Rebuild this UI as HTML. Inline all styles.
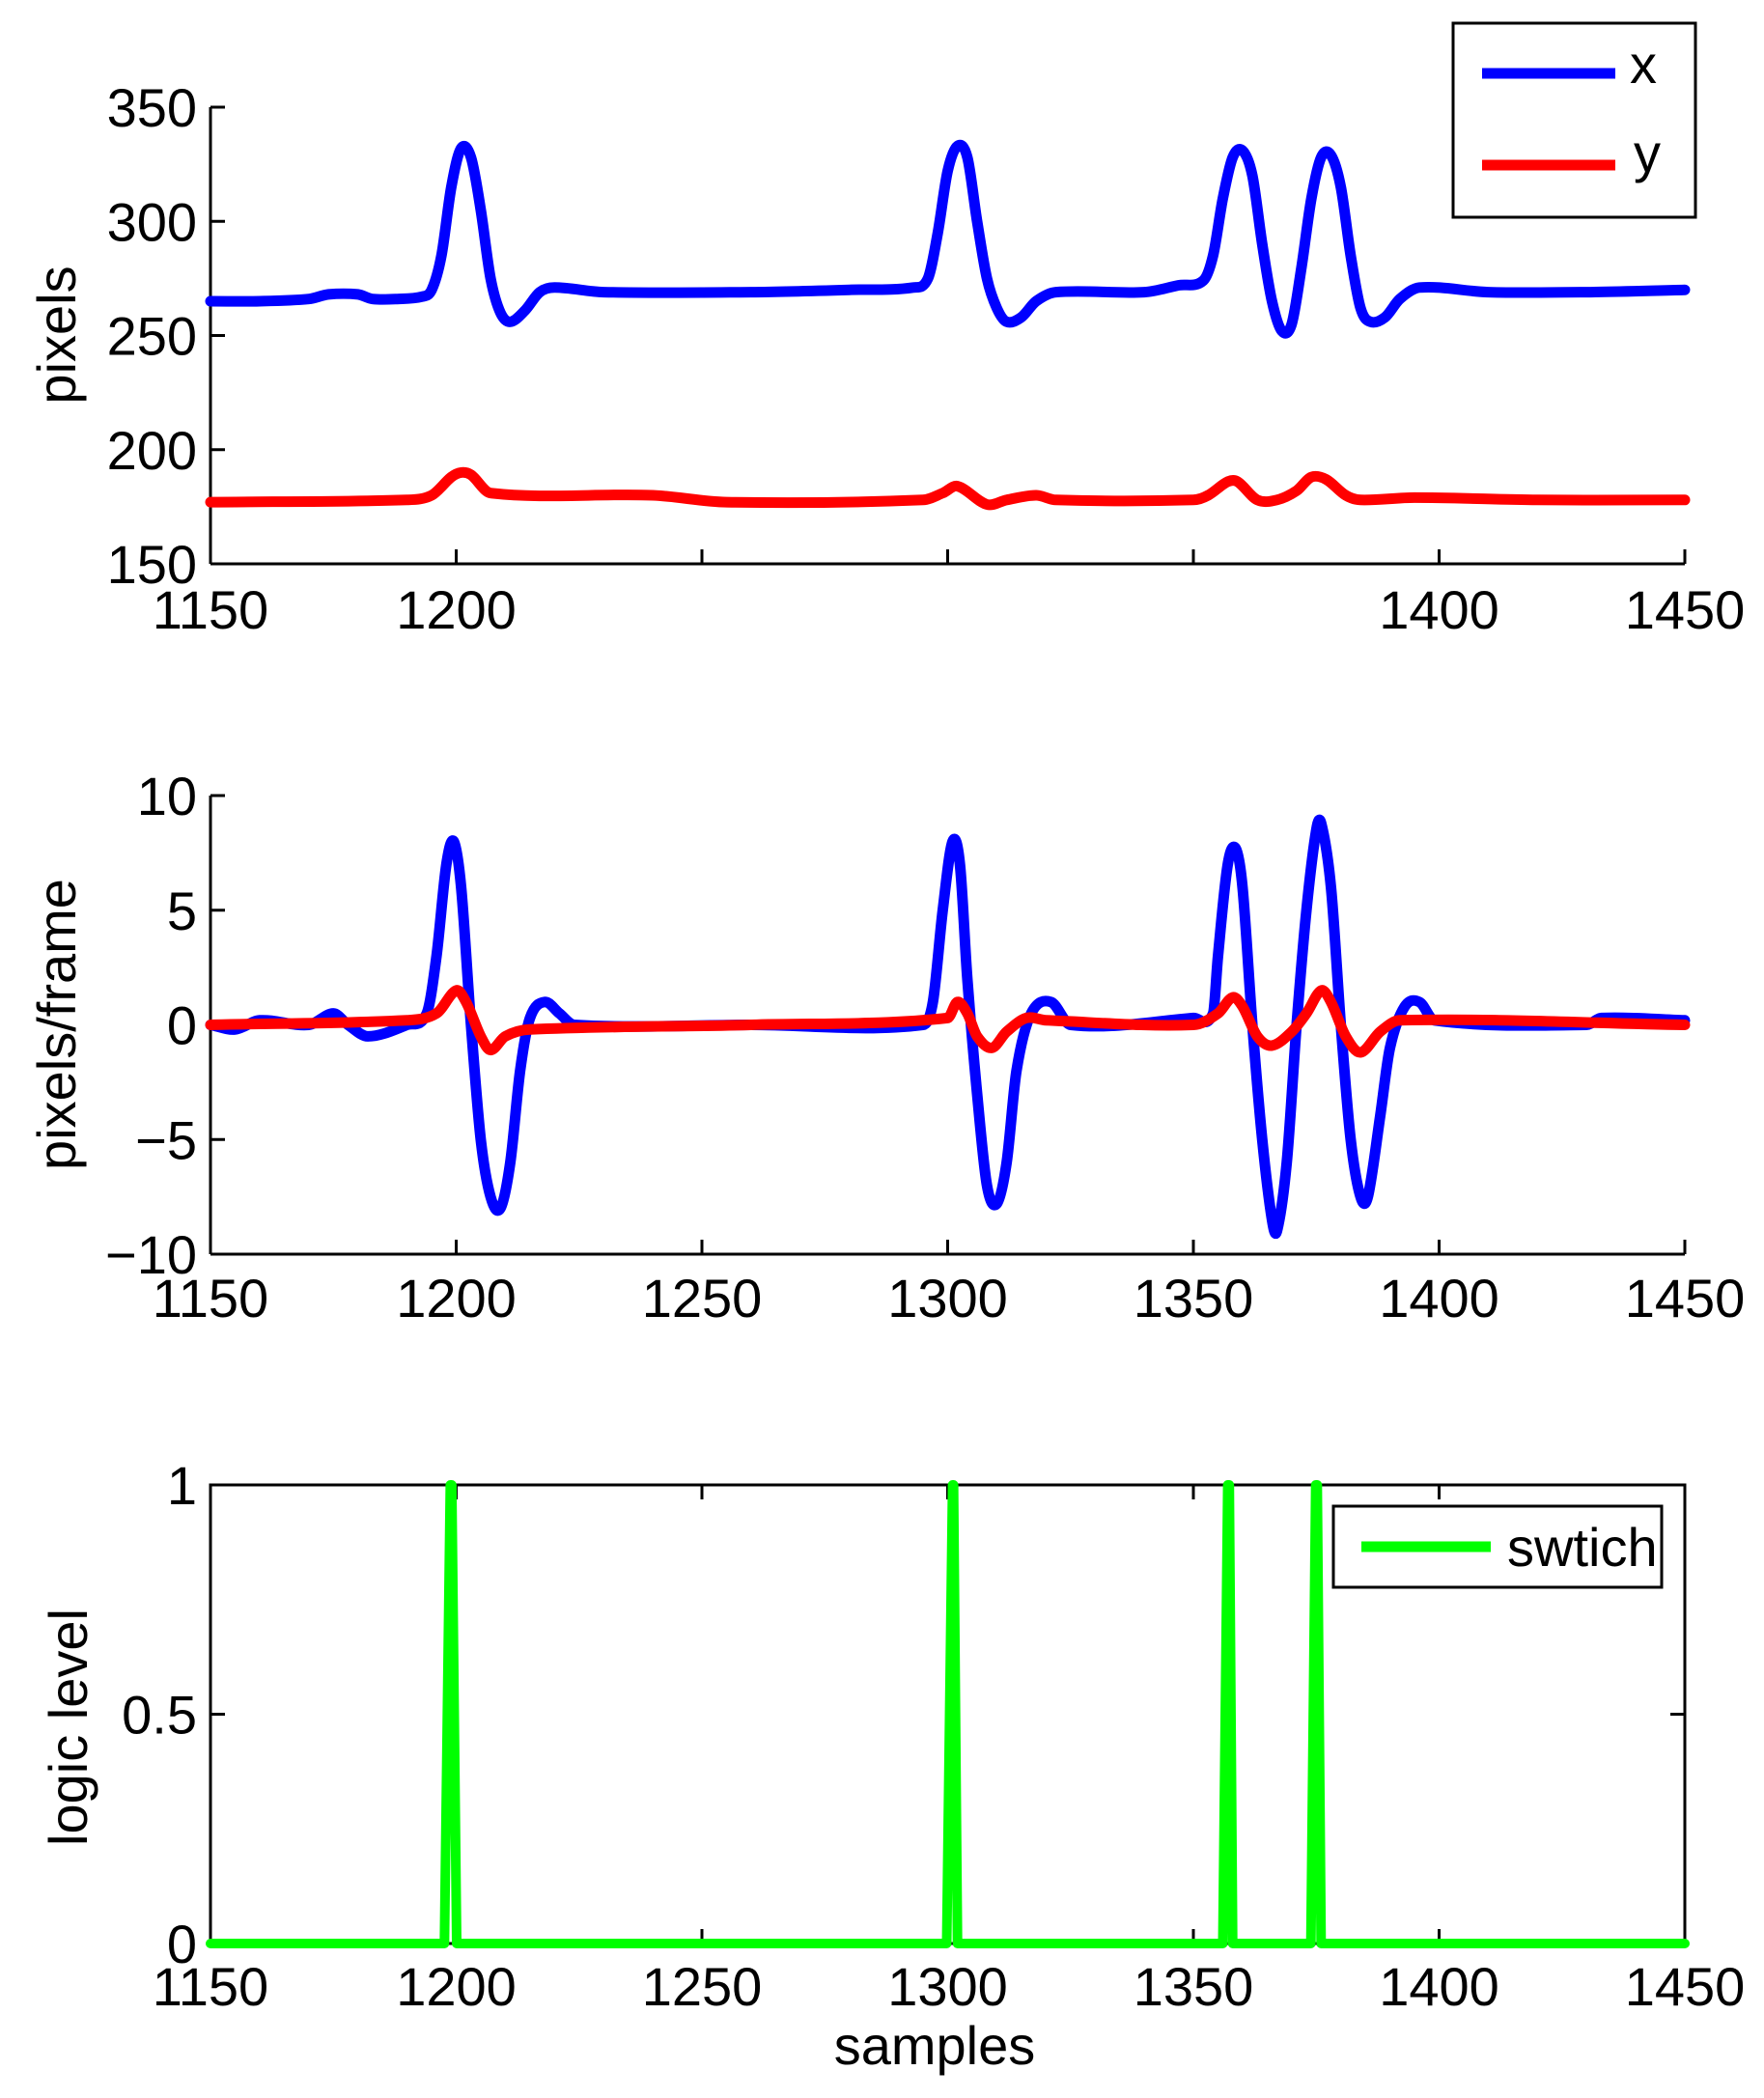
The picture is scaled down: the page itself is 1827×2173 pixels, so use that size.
<!DOCTYPE html>
<html><head><meta charset="utf-8"><style>
html,body{margin:0;padding:0;background:#fff}
svg{display:block}
text{font-family:"Liberation Sans",Arial,sans-serif;font-size:56px;fill:#000}
</style></head><body>
<svg id="s" width="1827" height="2173" viewBox="0 0 1827 2173" xmlns="http://www.w3.org/2000/svg">
<rect width="1827" height="2173" fill="#fff"/>
<g id="g"></g>
</svg>
<script>
(function(){
const NS="http://www.w3.org/2000/svg";
const g=document.getElementById('g');
function el(t,a,txt){const e=document.createElementNS(NS,t);for(const k in a)e.setAttribute(k,a[k]);if(txt!==undefined)e.textContent=String(txt);g.appendChild(e);return e;}
const X0=218,X1=1745;
const xs=v=>X0+(v-1150)*(X1-X0)/300;
function ymap(t,b,vt,vb){return v=>t+(v-vt)*(b-t)/(vb-vt);}
function smooth(pts,xf,yf,col,w){
  const P=pts.map(p=>[xf(p[0]),yf(p[1])]);
  const n=P.length,m=[];
  for(let i=0;i<n;i++){
    const a=P[Math.max(0,i-1)],b=P[Math.min(n-1,i+1)];
    m.push((b[1]-a[1])/(b[0]-a[0]));
  }
  let d='M'+P[0][0].toFixed(1)+','+P[0][1].toFixed(1);
  for(let i=0;i<n-1;i++){
    const p1=P[i],p2=P[i+1],dx=(p2[0]-p1[0])/3;
    d+=' C'+(p1[0]+dx).toFixed(1)+','+(p1[1]+m[i]*dx).toFixed(1)+' '+(p2[0]-dx).toFixed(1)+','+(p2[1]-m[i+1]*dx).toFixed(1)+' '+p2[0].toFixed(1)+','+p2[1].toFixed(1);
  }
  el('path',{d:d,fill:'none',stroke:col,'stroke-width':w,'stroke-linejoin':'round','stroke-linecap':'round'});
}
function line(pts,xf,yf,col,w){el('polyline',{points:pts.map(p=>xf(p[0]).toFixed(1)+','+yf(p[1]).toFixed(1)).join(' '),fill:'none',stroke:col,'stroke-width':w,'stroke-linejoin':'round','stroke-linecap':'round'});}
function L(x1,y1,x2,y2,w){el('line',{x1:x1,y1:y1,x2:x2,y2:y2,stroke:'#000','stroke-width':w||3});}
const T=15;
let tp=111,bt=584;const y1=ymap(tp,bt,350,150);
L(X0,tp,X0,bt);L(X0,bt,X1,bt);
[150,200,250,300,350].forEach(v=>{L(X0,y1(v),X0+T,y1(v));el('text',{x:204,y:y1(v)+20,'text-anchor':'end'},v);});
[1150,1200,1250,1300,1350,1400,1450].forEach(v=>{L(xs(v),bt,xs(v),bt-T);});
[1150,1200,1400,1450].forEach(v=>el('text',{x:xs(v),y:651,'text-anchor':'middle'},v));
el('text',{x:0,y:0,'text-anchor':'middle',transform:'translate(78,347) rotate(-90)'},'pixels');
const px=[[1150,265],[1160,265],[1170,266],[1174,268],[1180,268],[1183,266],[1188,266],[1193,267],[1195,270],[1197,285],[1199,315],[1201,332],[1203,328],[1205,305],[1207,275],[1209,260],[1211,256],[1214,261],[1217,269],[1220,271],[1230,269],[1260,269],[1280,270],[1293,271],[1296,275],[1298,295],[1300,322],[1302,333],[1304,328],[1306,300],[1308,275],[1310,262],[1312,256],[1315,258],[1318,265],[1322,269],[1340,269],[1347,272],[1352,274],[1354,285],[1356,310],[1358,328],[1360,331],[1362,320],[1364,290],[1366,265],[1368,252],[1370,255],[1372,280],[1374,310],[1376,328],[1378,329],[1380,315],[1382,285],[1384,262],[1386,256],[1389,258],[1392,266],[1396,271],[1410,269],[1430,269],[1450,270]];
const py=[[1150,177],[1190,178],[1195,180],[1199,188],[1201,190],[1203,189],[1207,181],[1240,180],[1255,177],[1295,178],[1299,181],[1302,184],[1308,176],[1312,178],[1318,180],[1322,178],[1350,178],[1353,180],[1357,186],[1359,186],[1363,178],[1367,178],[1371,182],[1374,188],[1377,187],[1381,180],[1384,178],[1395,179],[1420,178],[1450,178]];
smooth(px,xs,y1,'#0000ff',11);smooth(py,xs,y1,'#ff0000',11);
el('rect',{x:1505,y:24,width:251,height:201,fill:'#fff',stroke:'#000','stroke-width':3});
el('line',{x1:1535,y1:76,x2:1673,y2:76,stroke:'#0000ff','stroke-width':11});
el('line',{x1:1535,y1:171,x2:1673,y2:171,stroke:'#ff0000','stroke-width':11});
el('text',{x:1688,y:86},'x');el('text',{x:1692,y:178},'y');
tp=824;bt=1299;const y2=ymap(tp,bt,10,-10);
L(X0,tp,X0,bt);L(X0,bt,X1,bt);
[-10,-5,0,5,10].forEach(v=>{L(X0,y2(v),X0+T,y2(v));el('text',{x:204,y:y2(v)+20,'text-anchor':'end'},v<0?'\u2212'+(-v):v);});
[1150,1200,1250,1300,1350,1400,1450].forEach(v=>{L(xs(v),bt,xs(v),bt-T);el('text',{x:xs(v),y:1364,'text-anchor':'middle'},v);});
el('text',{x:0,y:0,'text-anchor':'middle',transform:'translate(78,1061) rotate(-90)'},'pixels/frame');
const vx=[[1150,0],[1155,-0.2],[1160,0.2],[1170,0],[1175,0.5],[1178,0],[1182,-0.5],[1190,0],[1194,0.5],[1196,3],[1198,7],[1199.5,8],[1201,6],[1203,0],[1205,-5],[1207,-7.5],[1209,-8],[1211,-6],[1213,-2],[1215,0.3],[1218,1],[1221,0.5],[1224,0],[1260,0],[1295,0],[1297,1],[1299,5],[1301,8],[1302.5,7],[1304,2],[1306,-3],[1308,-7],[1310,-7.8],[1312,-6],[1314,-2],[1317,0.5],[1321,1],[1325,0],[1350,0.3],[1354,0.5],[1355,3],[1357,7],[1358.6,7.7],[1360,6],[1362,0],[1364,-5],[1366,-8.5],[1367,-9],[1369,-6],[1371,0],[1373,5],[1375,8.5],[1376,8.8],[1378,6],[1380,0],[1382,-5],[1384,-7.5],[1385.5,-7.5],[1388,-4],[1390,-1],[1393,0.8],[1396,1],[1399,0.2],[1430,0],[1433,0.3],[1450,0.2]];
const vy=[[1150,0],[1190,0.2],[1196,0.5],[1200,1.5],[1202,1],[1205,-0.5],[1207,-1.1],[1210,-0.5],[1215,-0.2],[1260,0],[1300,0.3],[1302,1],[1304,0.5],[1306,-0.5],[1309,-1],[1312,-0.3],[1316,0.3],[1320,0.2],[1350,0],[1355,0.5],[1358,1.2],[1360,0.8],[1363,-0.5],[1366,-0.9],[1370,-0.3],[1373,0.5],[1376,1.5],[1378,1],[1381,-0.5],[1384,-1.2],[1388,-0.3],[1392,0.2],[1450,0]];
smooth(vx,xs,y2,'#0000ff',11);smooth(vy,xs,y2,'#ff0000',11);
tp=1538;bt=2013;const y3=ymap(tp,bt,1,0);
el('rect',{x:X0,y:tp,width:X1-X0,height:bt-tp,fill:'none',stroke:'#000','stroke-width':3});
[0,0.5,1].forEach(v=>{L(X0,y3(v),X0+T,y3(v));L(X1,y3(v),X1-T,y3(v));el('text',{x:204,y:y3(v)+20,'text-anchor':'end'},v);});
[1150,1200,1250,1300,1350,1400,1450].forEach(v=>{L(xs(v),bt,xs(v),bt-T);L(xs(v),tp,xs(v),tp+T);el('text',{x:xs(v),y:2077,'text-anchor':'middle'},v);});
el('text',{x:0,y:0,'text-anchor':'middle',transform:'translate(90,1789) rotate(-90)'},'logic level');
el('text',{x:968,y:2138,'text-anchor':'middle'},'samples');
const sw=[[1150,0],[1197.6,0],[1198.8,1],[1199.1,1],[1200.1,0],[1299.8,0],[1301,1],[1301.2,1],[1302,0],[1356,0],[1357,1],[1357.3,1],[1358,0],[1373.9,0],[1374.9,1],[1375.2,1],[1376,0],[1450,0]];
line(sw,xs,y3,'#00ff00',10);
el('rect',{x:1381,y:1560,width:340,height:84,fill:'#fff',stroke:'#000','stroke-width':3});
el('line',{x1:1410,y1:1602,x2:1544,y2:1602,stroke:'#00ff00','stroke-width':11});
el('text',{x:1561,y:1622},'swtich');
})();
</script>
</body></html>
